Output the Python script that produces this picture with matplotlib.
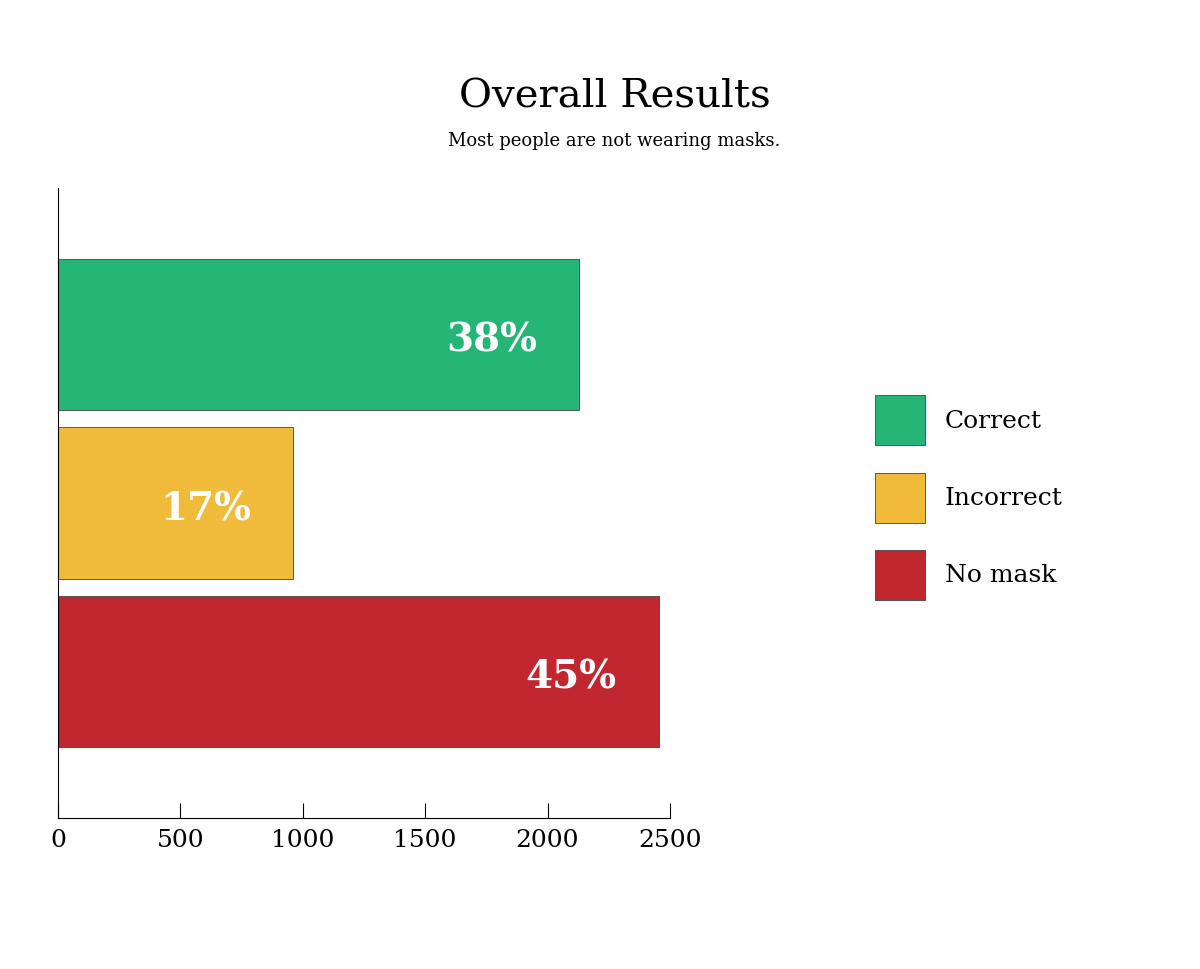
import matplotlib.pyplot as plt
from matplotlib.patches import Patch

# data
categories = ['Correct', 'Incorrect', 'No mask']
counts = [2128, 960, 2455]
pct_labels = ['38%', '17%', '45%']
colors = ['#25B676', '#F0BB3A', '#C1272F']

plt.rcParams['font.family'] = 'DejaVu Serif'

fig = plt.figure(figsize=(12, 9.69), dpi=100)
ax = fig.add_axes([0.0483, 0.1558, 0.51, 0.650])

ypos = list(range(len(categories)))
ax.barh(ypos, counts, height=0.9, color=colors, edgecolor='#444444', linewidth=0.6)

# percentage labels inside the bar ends
for y, v, lab in zip(ypos, counts, pct_labels):
    ax.annotate(lab, xy=(v, y), xytext=(-42, -6), textcoords='offset pixels',
                ha='right', va='center', color='white', fontsize=28, fontweight='bold')

ax.set_xlim(0, 2500)
ax.set_ylim(2.87, -0.87)
ax.set_xticks([0, 500, 1000, 1500, 2000, 2500])
ax.set_yticks([])
ax.tick_params(axis='x', direction='in', length=11, width=0.8, labelsize=18, pad=8)
for s in ['top', 'right']:
    ax.spines[s].set_visible(False)
for s in ['left', 'bottom']:
    ax.spines[s].set_linewidth(0.8)

fig.text(0.512, 0.900, 'Overall Results', ha='center', va='center', fontsize=29)
fig.text(0.512, 0.855, 'Most people are not wearing masks.', ha='center', va='center', fontsize=13)

handles = [Patch(facecolor=c, edgecolor='#444444', linewidth=0.6) for c in colors]
fig.legend(handles, categories, loc='upper left', bbox_to_anchor=(875 / 1200, 1 - 395 / 969),
           frameon=False, fontsize=18, handlelength=2.0, handleheight=2.7,
           labelspacing=1.1, handletextpad=0.8, borderpad=0, borderaxespad=0)

fig.savefig('out.png', dpi=100)
